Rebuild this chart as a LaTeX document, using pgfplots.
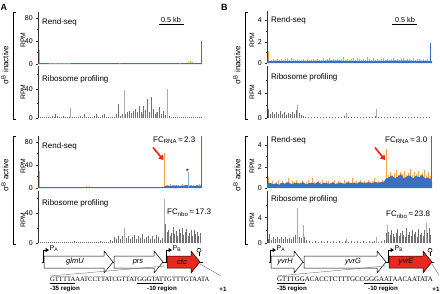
\documentclass[border=0pt]{standalone}
\usepackage{fontspec}
\setmainfont{Liberation Sans}
\newfontfamily\seqfont{Liberation Serif}
\usepackage{pgfplots}
\pgfplotsset{compat=1.18}
\usetikzlibrary{arrows.meta}
\definecolor{rorange}{HTML}{F5A54A}
\definecolor{rblue}{HTML}{3B6FC0}
\definecolor{rlblue}{HTML}{8CB2E3}
\definecolor{rdgray}{HTML}{707070}
\definecolor{rlgray}{HTML}{ABABAB}
\definecolor{rred}{HTML}{E8281E}
\newcommand{\fs}[1]{\fontsize{#1}{#1}\selectfont}
\pgfplotsset{
  trk/.style={scale only axis, axis x line=none, axis y line=left, xtick=\empty,
    y axis line style={-, draw=black!80, line width=0.5pt},
    tick align=outside, major tick length=2pt, minor tick length=1.3pt,
    every tick/.style={black!80, line width=0.4pt},
    tick label style={font=\fs{7}}, /pgf/number format/assume math mode=true,
    yticklabel style={xshift=0.3pt},
    ymin=0, enlargelimits=false, anchor=south west, height=52pt},
  Atrk/.style={trk, xmin=38, xmax=202, width=164pt},
  Btrk/.style={trk, xmin=267, xmax=432, width=165pt},
  spk/.style={ycomb, no marks, line width=0.5pt},
  gspk/.style={ycomb, no marks, line width=0.45pt},
}
\newcommand{\gene}[5]{% x1, x2, fill, text x, name
  \draw[line width=0.5pt, fill=#3] (#1,256) -- (#2-9,256) -- (#2-9,251) -- (#2,262) -- (#2-9,273) -- (#2-9,268) -- (#1,268) -- cycle;
  \node[font=\fs{7.5}\itshape] at (#4,262) {#5};}
\newcommand{\prom}[3]{% x, label, sub
  \draw[line width=0.5pt] (#1,262) -- (#1,250) -- (#1+3,250);
  \fill (#1+2.5,247.8) -- (#1+6,250) -- (#1+2.5,252.2) -- cycle;
  \node[anchor=west, font=\fs{7}, inner sep=0pt] at (#1+6.5,249) {P\textsubscript{#3}};}
\newcommand{\term}[1]{%
  \draw[line width=0.5pt] (#1,256) -- (#1,252.2); \draw[line width=0.5pt] (#1,250.2) circle (2);}
\begin{document}
\begin{tikzpicture}
\path[use as bounding box] (0pt,0pt) rectangle (440pt,-293pt);

% ---------------- Panel A, sigma B inactive, Rend-seq
\begin{axis}[Atrk, at={(38pt,-64pt)}, ymax=90, ytick={0,40,80}, minor ytick={20,60}]
\addplot[spk, rorange] coordinates {(39,24) (40.5,2) (44,1.5) (48,2.5) (52,1.8) (57,2) (61,1.5) (66,2.2) (70,1.5) (75,2) (80,1.5) (85,2.5) (90,1.2) (95,2) (100,1.5) (106,2) (110,1.5) (115,1.8) (120,2.5) (125,1.5) (130,2) (135,1.5) (140,2.2) (145,1.6) (150,2) (155,1.5) (160,1.8) (165,2) (170,1.5) (175,2.2) (180,1.8) (185,2.5) (188,3) (190,5) (192,3) (196,2) (199,2.5)};
\addplot[fill=rblue, draw=none] coordinates {(38,1.4) (60,1.2) (90,1.5) (120,1.3) (150,1.5) (180,1.3) (202,1.5)} \closedcycle;
\addplot[spk, rblue, line width=0.7pt] coordinates {(201.3,40)};
\end{axis}

% ---------------- Panel A, inactive, Ribosome profiling
\begin{axis}[Atrk, at={(38pt,-118pt)}, ymax=72, ytick={0,40}, minor ytick={20,60}]
\addplot[gspk, rdgray] coordinates {(40,1) (42,2) (44,1) (46,1.5) (48,1) (50,2) (52,3) (54,2) (55,5.5) (57,3) (59,2) (61,1) (63,3) (65,1.5) (67,2) (69,1) (72,2) (74,1.5) (76,1) (78,2) (80,3) (82,1) (84,6) (86,2) (88,1) (90,1.5) (92,2) (94,3) (96,5) (98,2) (100,1.5) (102,4) (104,5) (106,2) (108,1) (110,1.5) (112,1) (114,2) (116,6) (118,19) (120,3) (122,5) (125,6) (127,8) (129,10) (131,7) (133,10) (135,12) (137,8) (139,16) (141,9) (143,17) (145,11) (147,27) (149,9) (151,28.5) (153,12) (155,6) (157,8) (159,15) (161,5) (163,10) (165,4) (169,3) (171,2) (173,1) (175,1.5) (177,1) (179,2) (181,1) (183,1.5) (185,1) (187,2) (189,1) (191,1.5) (193,1) (195,2) (197,1) (199,1.5) (201,1)};
\addplot[gspk, rlgray] coordinates {(70,14) (124,39) (167,40) (142,6) (156,9)};
\end{axis}

% ---------------- Panel A, active, Rend-seq
\begin{axis}[Atrk, at={(38pt,-188pt)}, ymax=90, ytick={0,40,80}, minor ytick={20,60}]
\addplot[spk, rorange] coordinates {(39,29) (42,2) (47,1.5) (52,2) (57,1.5) (62,2.5) (67,1.5) (72,2) (77,1.5) (81,2) (86,4) (89,3.5) (93,2) (98,1.5) (103,2) (108,1.5) (113,2) (118,1.5) (123,2) (128,1.5) (133,2) (138,1.5) (143,2) (148,1.5) (153,2) (158,1.5) (162,2) (164.5,61) (166,5) (167.5,6) (169,4) (170.5,7) (172,5) (173.5,6) (175,4) (176.5,5.5) (178,6) (179.5,4) (181,5) (182.5,7) (184,5) (185.5,6) (187,4.5) (190,5) (191.5,6) (193,5) (194.5,4) (196,6) (197.5,5) (199,7) (200.5,5)};
\addplot[fill=rblue, draw=none] coordinates {(38,1.5) (100,1.5) (163.8,1.5) (164.5,3) (168,4) (172,3.5) (176,4.5) (180,3.5) (184,4) (187,5) (190,4) (194,3.5) (198,4.5) (201,3) (202,1)} \closedcycle;
\addplot[spk, rlblue, line width=0.9pt] coordinates {(188.5,28)};
\addplot[spk, rblue, line width=0.7pt] coordinates {(201.3,95)};
\end{axis}

% ---------------- Panel A, active, Ribosome profiling
\begin{axis}[Atrk, at={(38pt,-243pt)}, ymax=70, ytick={0,40}, minor ytick={20,60}]
\addplot[gspk, rdgray] coordinates {(40,1) (42,1.5) (44,1) (46,2) (48,1) (50,1.5) (52,2) (54,1) (56,1.5) (58,1) (60,2) (62,1) (64,1.5) (66,1) (68,2) (70,1) (72,1.5) (74,3) (76,1) (78,2) (80,1) (82,1.5) (84,2) (86,1) (88,1.5) (90,1) (92,2) (94,1) (96,1.5) (98,1) (100,2.5) (102,1) (104,1.5) (106,1) (108,2) (110,4) (112,3) (114,8) (116,5) (118,9) (120,6) (122,10) (126,7) (128,9) (130,5) (132,8) (134,11) (136,6) (138,9) (140,7) (142,12) (144,6) (146,8) (148,10) (150,5) (152,9) (154,6) (156,11) (158,8) (160,4) (162,7) (165.5,25) (167,15) (168.5,18) (170,10) (171.5,14) (173,21) (174.5,12) (176,16) (177.5,9) (179,19) (180.5,13) (182,20) (183.5,11) (185,15) (186.5,19) (188,10) (189.5,14) (191,17) (192.5,9) (194,18) (195.5,12) (197,15) (198.5,10) (200,13)};
\addplot[gspk, rlgray] coordinates {(124,20) (164.5,59)};
\end{axis}

% ---------------- Panel B, inactive, Rend-seq
\begin{axis}[Btrk, at={(267pt,-63pt)}, ymax=4.9, ytick={0,2,4}, minor ytick={1,3}]
\addplot[spk, rorange] coordinates {(268.5,1.1) (271,0.3) (273,0.4) (275,0.25) (277,0.35) (279,0.3) (281,0.4) (283,0.3) (285,0.35) (287,0.45) (289,0.3) (291,0.5) (293,0.35) (295,0.3) (297,0.4) (299,0.3) (301,0.25) (303,0.35) (305,0.3) (307,0.4) (309,0.3) (311,0.25) (313,0.35) (315,0.3) (317,0.4) (319,0.3) (321,0.25) (323,0.45) (325,0.3) (327,0.35) (329,0.5) (331,0.3) (333,0.4) (335,0.3) (337,0.35) (339,0.3) (341,0.4) (343,0.55) (345,0.3) (347,0.4) (349,0.3) (351,0.35) (353,0.45) (355,0.3) (357,0.5) (359,0.35) (361,0.3) (363,0.4) (365,0.3) (367,0.55) (369,0.35) (371,0.3) (373,0.45) (375,0.3) (377,0.4) (379,0.3) (381,0.35) (383,0.5) (385,0.3) (387,0.4) (389,0.3) (391,0.35) (393,0.45) (395,0.3) (397,0.4) (399,0.3) (401,0.35) (403,0.5) (405,0.3) (407,0.4) (409,0.35) (411,0.3) (413,0.45) (415,0.3) (417,0.4) (419,0.35) (421,0.3) (423,0.4) (425,0.3) (427,0.35)};
\addplot[fill=rblue, draw=none] coordinates {(267,0.2) (300,0.18) (330,0.22) (360,0.2) (400,0.22) (432,0.2)} \closedcycle;
\addplot[spk, rblue, line width=0.7pt] coordinates {(430.8,1.9)};
\end{axis}

% ---------------- Panel B, inactive, Ribosome profiling
\begin{axis}[Btrk, at={(267pt,-118pt)}, ymax=8.3, ytick={0,4}, minor ytick={2,6}]
\addplot[gspk, rdgray] coordinates {(268,1.4) (270,0.6) (272,0.9) (274,0.7) (276,1.0) (278,0.6) (280,1.1) (282,0.7) (284,0.9) (286,0.5) (288,0.8) (290,0.6) (292,1.0) (294,0.7) (296,1.3) (299,0.8) (301,0.5) (303,0.3) (305,0.2) (308,0.15) (311,0.2) (314,0.15) (317,0.2) (320,0.15) (323,0.2) (326,0.15) (329,0.2) (332,0.15) (335,0.2) (338,0.15) (341,0.2) (344,0.3) (348,0.2) (351,0.15) (354,0.2) (357,0.15) (360,0.2) (363,0.15) (366,0.2) (369,0.15) (372,0.2) (375,0.3) (378,0.2) (381,0.15) (384,0.2) (387,0.15) (390,0.2) (393,0.15) (396,0.2) (399,0.15) (402,0.2) (405,0.15) (408,0.2) (411,0.15) (414,0.2) (417,0.15) (420,0.2) (423,0.15) (426,0.2) (429,0.15)};
\addplot[gspk, rlgray] coordinates {(297.5,2.1) (346,0.8) (376.5,1.4)};
\end{axis}

% ---------------- Panel B, active, Rend-seq
\begin{axis}[Btrk, at={(267pt,-188pt)}, ymax=4.9, ytick={0,2,4}, minor ytick={1,3}]
\addplot[spk, rorange] coordinates {(268,1.0) (270,0.5) (272,0.7) (274,0.4) (276,0.6) (278,0.8) (280,0.5) (282,0.7) (284,0.4) (286,0.6) (288,0.9) (290,0.5) (292,0.7) (294,0.6) (296,0.8) (298,0.5) (300,0.6) (302,0.7) (304,0.5) (306,0.6) (308,0.8) (310,0.5) (312,0.95) (314,0.6) (316,0.5) (318,0.7) (320,0.6) (322,0.8) (324,0.5) (326,0.65) (328,0.7) (330,0.5) (332,0.6) (334,0.8) (336,0.5) (338,0.7) (340,0.6) (342,0.5) (344,0.8) (346,0.6) (348,0.7) (350,0.5) (352,0.9) (354,0.6) (356,0.7) (358,0.5) (360,0.8) (362,0.6) (364,0.7) (366,0.5) (368,0.8) (370,0.6) (372,0.7) (374,0.9) (376,0.6) (378,0.7) (380,0.5) (382,0.8) (384,0.6) (386,3.65) (388,1.2) (390,1.5) (392,1.1) (394,1.4) (396,1.7) (398,1.2) (400,1.5) (402,1.3) (404,1.6) (406,1.2) (408,1.4) (410,1.8) (412,1.2) (414,1.5) (416,1.3) (418,1.6) (420,1.2) (422,1.4) (424,1.7) (426,1.2) (428,1.5) (430,1.1)};
\addplot[fill=rblue, draw=none] coordinates {(267,0.4) (270,0.5) (273,0.35) (276,0.45) (279,0.3) (282,0.5) (285,0.4) (288,0.55) (291,0.35) (294,0.45) (297,0.5) (300,0.4) (303,0.55) (306,0.35) (309,0.45) (312,0.5) (315,0.4) (318,0.6) (321,0.35) (324,0.5) (327,0.45) (330,0.4) (333,0.55) (336,0.35) (339,0.5) (342,0.45) (345,0.4) (348,0.55) (351,0.45) (354,0.5) (357,0.4) (360,0.6) (363,0.45) (366,0.5) (369,0.55) (372,0.45) (375,0.6) (378,0.5) (381,0.55) (384,0.6) (386,0.9) (389,1.0) (392,1.2) (395,0.9) (398,1.1) (401,1.3) (404,0.9) (407,1.1) (410,1.2) (413,0.9) (416,1.15) (419,1.0) (422,1.25) (425,0.9) (428,1.0) (431,0.8) (432,0.5)} \closedcycle;
\addplot[spk, rblue, line width=0.7pt] coordinates {(431.3,6)};
\end{axis}

% ---------------- Panel B, active, Ribosome profiling
\begin{axis}[Btrk, at={(267pt,-243pt)}, ymax=8.2, ytick={0,4}, minor ytick={2,6}]
\addplot[gspk, rdgray] coordinates {(268,0.6) (269.5,1.4) (271,0.5) (273,0.9) (275,0.6) (277,1.0) (279,0.7) (281,0.9) (283,0.6) (285,1.0) (287,0.7) (289,0.8) (291,0.6) (293,0.9) (295,1.2) (299,1.0) (301,0.8) (304.5,1.0) (306,0.4) (309,0.3) (312,0.2) (315,0.3) (318,0.2) (321,0.3) (324,0.2) (327,0.3) (330,0.2) (333,0.3) (336,0.2) (339,0.3) (342,0.2) (345,0.3) (348,0.2) (351,0.3) (354,0.2) (357,0.3) (360,0.2) (363,0.3) (366,0.2) (369,0.3) (372,0.2) (374,0.3) (378,0.2) (381,0.3) (384,0.4) (386,1.5) (388.5,1.8) (390,1.2) (391.5,2.0) (393,1.4) (394.5,1.0) (396,1.6) (397.5,2.2) (399,1.1) (400.5,1.5) (402,1.9) (403.5,1.2) (405,1.0) (406.5,2.4) (408,1.3) (409.5,1.7) (411,1.1) (412.5,2.0) (414,1.4) (415.5,1.8) (417,1.0) (418.5,2.2) (420,1.3) (421.5,1.6) (423,1.1) (424.5,2.0) (427.5,1.5) (429,2.4) (430.5,1.2)};
\addplot[gspk, rlgray] coordinates {(297.5,5.5) (303,2.9) (346.5,0.7) (376,0.9) (387,2.9) (426,3.1)};
\end{axis}

% ---------------- annotations in pixel coordinates
\begin{scope}[x=1pt, y=-1pt]
% panel letters
\node[font=\fs{9}\bfseries, anchor=west, inner sep=0pt] at (0.5,7) {A};
\node[font=\fs{9}\bfseries, anchor=west, inner sep=0pt] at (221,7) {B};
% brackets
\foreach \bx/\lx in {13/5, 245/237} {
  \draw[line width=0.5pt] (\bx+3,12) -- (\bx,12) -- (\bx,119) -- (\bx+3,119);
  \draw[line width=0.5pt] (\bx+3,136) -- (\bx,136) -- (\bx,244) -- (\bx+3,244);
  \node[rotate=90, font=\fs{8}] at (\lx,65) {σ\textsuperscript{B} inactive};
  \node[rotate=90, font=\fs{8}] at (\lx,175) {σ\textsuperscript{B} active};
}
% RPM labels
\foreach \rx in {23, 252} {
  \node[rotate=90, font=\fs{6.8}] at (\rx,40) {RPM};
  \node[rotate=90, font=\fs{6.8}] at (\rx,92) {RPM};
  \node[rotate=90, font=\fs{6.8}] at (\rx,166) {RPM};
  \node[rotate=90, font=\fs{6.8}] at (\rx,220) {RPM};
}
% track titles
\node[anchor=west, font=\fs{8}, inner sep=0pt] at (42,22) {Rend-seq};
\node[anchor=west, font=\fs{8}, inner sep=0pt] at (42,79) {Ribosome profiling};
\node[anchor=west, font=\fs{8}, inner sep=0pt] at (42,146) {Rend-seq};
\node[anchor=west, font=\fs{8}, inner sep=0pt] at (42,203) {Ribosome profiling};
\node[anchor=west, font=\fs{8}, inner sep=0pt] at (271,20) {Rend-seq};
\node[anchor=west, font=\fs{8}, inner sep=0pt] at (271,77) {Ribosome profiling};
\node[anchor=west, font=\fs{8}, inner sep=0pt] at (271,140) {Rend-seq};
\node[anchor=west, font=\fs{8}, inner sep=0pt] at (271,199) {Ribosome profiling};
% scale bars
\node[font=\fs{7.3}, inner sep=0pt] at (171,19.5) {0.5 kb};
\draw[line width=0.9pt] (159,24.5) -- (184,24.5);
\node[font=\fs{7.3}, inner sep=0pt] at (405,19.5) {0.5 kb};
\draw[line width=0.9pt] (392,24.5) -- (417,24.5);
% fold changes
\node[anchor=west, font=\fs{8}, inner sep=0pt] at (153,140) {FC\textsubscript{RNA}\,≈\,2.3};
\node[anchor=west, font=\fs{8}, inner sep=0pt] at (167,213) {FC\textsubscript{ribo}\,≈\,17.3};
\node[anchor=west, font=\fs{8}, inner sep=0pt] at (385,140) {FC\textsubscript{RNA}\,≈\,3.0};
\node[anchor=west, font=\fs{8}, inner sep=0pt] at (386,215) {FC\textsubscript{ribo}\,≈\,23.8};
% red arrows
\draw[rred, line width=1.7pt, -{Triangle[length=4.5pt, width=6pt]}] (153,147.5) -- (163.5,160);
\draw[rred, line width=1.7pt, -{Triangle[length=4.5pt, width=6pt]}] (375,147.5) -- (385,160);
% asterisk
\node[font=\fs{8}, inner sep=0pt] at (187.5,172) {*};
% gene maps
\draw[line width=0.5pt] (42,262) -- (203,262);
\draw[line width=0.5pt] (269,262) -- (434,262);
\prom{43}{P}{A}
\prom{166}{P}{B}
\prom{270}{P}{A}
\prom{388}{P}{B}
\gene{44}{113}{white}{75}{glmU}
\gene{114}{163}{white}{138}{prs}
\gene{167}{200}{rred}{182}{ctc}
\gene{271}{303}{white}{285}{yvrH}
\gene{304}{386}{white}{353}{yvrG}
\gene{389}{432}{rred}{406}{yvrE}
\term{199}
\term{430}
% zoom lines
\draw[black!55, line width=0.4pt] (165,266) -- (50,276);
\draw[black!55, line width=0.4pt] (200,264) -- (221,276);
\draw[black!55, line width=0.4pt] (386,266) -- (277,276);
\draw[black!55, line width=0.4pt] (432,264) -- (439,275);
% sequences
\node[anchor=west, font=\fs{6.6}\seqfont, inner sep=0pt] at (50,280.5) {\underline{GTTTTA}AATCCTTATCGTTAT\underline{GGGTAT}TGTTTGTAATA};
\node[anchor=west, font=\fs{6.9}\seqfont, inner sep=0pt] at (277,280.5) {\underline{GTTTGG}ACACCTCTTTGCC\underline{GGGAAT}AACAATATA};
\node[anchor=west, font=\fs{6.2}\bfseries, inner sep=0pt] at (50,289) {-35 region};
\node[anchor=west, font=\fs{6.2}\bfseries, inner sep=0pt] at (147,289) {-10 region};
\node[font=\fs{6.2}\bfseries, inner sep=0pt] at (223,289) {+1};
\node[anchor=west, font=\fs{6.2}\bfseries, inner sep=0pt] at (277,289) {-35 region};
\node[anchor=west, font=\fs{6.2}\bfseries, inner sep=0pt] at (368,289) {-10 region};
\node[font=\fs{6.2}\bfseries, inner sep=0pt] at (436,289) {+1};
\end{scope}
\end{tikzpicture}
\end{document}
